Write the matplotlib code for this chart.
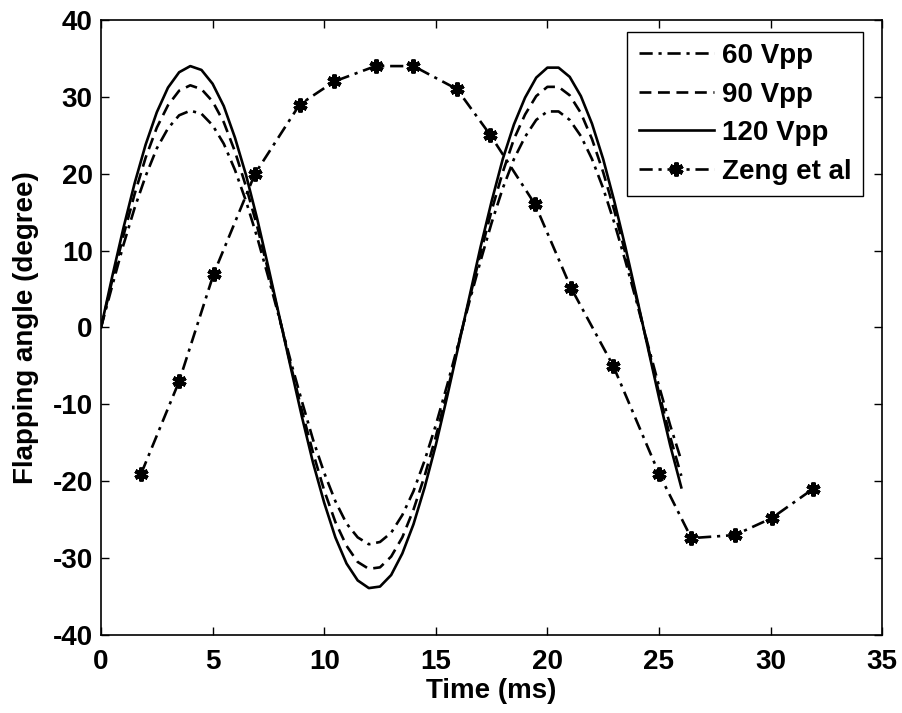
import matplotlib
matplotlib.use("Agg")
import matplotlib.pyplot as plt

# time axis for simulated curves (ms)
t_sim = [0.0, 0.5, 1.0, 1.5, 2.0, 2.5, 3.0, 3.5, 4.0, 4.5, 5.0, 5.5, 6.0, 6.5,
         7.0, 7.5, 8.0, 8.5, 9.0, 9.5, 10.0, 10.5, 11.0, 11.5, 12.0, 12.5,
         13.0, 13.5, 14.0, 14.5, 15.0, 15.5, 16.0, 16.5, 17.0, 17.5, 18.0,
         18.5, 19.0, 19.5, 20.0, 20.5, 21.0, 21.5, 22.0, 22.5, 23.0, 23.5,
         24.0, 24.5, 25.0, 25.5, 26.0]

vpp60 = [0, 5.4, 10.7, 15.5, 19.7, 23.3, 25.9, 27.6, 28.2, 27.8, 26.3, 23.9,
         20.5, 16.4, 11.7, 6.5, 1.1, -4.4, -9.6, -14.6, -18.9, -22.6, -25.5,
         -27.3, -28.2, -27.9, -26.7, -24.4, -21.3, -17.3, -12.7, -7.6, -2.2,
         3.3, 8.6, 13.6, 18.1, 21.9, 24.8, 27.0, 28.1, 28.1, 27.0, 24.9, 21.9,
         18.1, 13.6, 8.6, 3.3, -2.2, -7.6, -12.7, -17.3]

vpp90 = [0, 6.1, 11.9, 17.3, 22.1, 26.0, 28.9, 30.8, 31.5, 31.0, 29.4, 26.7,
         22.9, 18.3, 13.1, 7.3, 1.2, -4.9, -10.8, -16.3, -21.2, -25.3, -28.4,
         -30.5, -31.4, -31.2, -29.8, -27.3, -23.7, -19.3, -14.2, -8.5, -2.4,
         3.6, 9.6, 15.2, 20.2, 24.5, 27.7, 30.1, 31.3, 31.3, 30.2, 27.9, 24.5,
         20.2, 15.2, 9.6, 3.7, -2.4, -8.5, -14.2, -19.3]

vpp120 = [0, 6.6, 12.9, 18.7, 23.8, 28.0, 31.2, 33.2, 34.0, 33.5, 31.7, 28.8,
          24.7, 19.8, 14.1, 7.8, 1.3, -5.2, -11.6, -17.6, -22.8, -27.3, -30.7,
          -32.9, -33.9, -33.7, -32.2, -29.4, -25.6, -20.8, -15.3, -9.1, -2.6,
          3.9, 10.4, 16.4, 21.9, 26.4, 29.9, 32.5, 33.8, 33.8, 32.6, 30.1,
          26.5, 21.9, 16.4, 10.4, 4.0, -2.6, -9.1, -15.3, -20.8]

# Zeng et al reference data
t_zeng = [1.8, 3.5, 5.05, 6.9, 8.9, 10.45, 12.3, 14.0, 15.95, 17.45, 19.45,
          21.05, 22.95, 25.0, 26.45, 28.4, 30.05, 31.9]
zeng = [-19, -7, 7, 20, 29, 32, 34, 34, 31, 25, 16, 5.2, -5, -19, -27.4,
        -27, -24.8, -21]

plt.rcParams['font.family'] = ['Liberation Sans', 'DejaVu Sans']
plt.rcParams['font.weight'] = 'bold'
plt.rcParams['axes.labelweight'] = 'bold'
plt.rcParams['axes.unicode_minus'] = False
plt.rcParams['font.size'] = 20

fig = plt.figure(figsize=(9.02, 7.13), dpi=100)
ax = fig.add_axes([0.112, 0.1094, 0.866, 0.8626])

dashdot = (5, 2.2, 1.2, 2.2)
lw = 1.9

ax.plot(t_sim, vpp60, color='black', lw=lw, dashes=dashdot, label='60 Vpp')
ax.plot(t_sim, vpp90, color='black', lw=lw, dashes=(4.5, 2.5), label='90 Vpp')
ax.plot(t_sim, vpp120, color='black', lw=lw, ls='-', label='120 Vpp')
ax.plot(t_zeng, zeng, color='black', lw=lw, dashes=dashdot, marker=(6, 2, 0),
        markersize=10, markeredgewidth=3, label='Zeng et al')

ax.set_xlim(0, 35)
ax.set_ylim(-40, 40)
ax.set_xticks([0, 5, 10, 15, 20, 25, 30, 35])
ax.set_yticks([-40, -30, -20, -10, 0, 10, 20, 30, 40])
ax.tick_params(direction='in', length=6, width=1, top=True, right=True)
ax.tick_params(axis='x', pad=10)
ax.tick_params(axis='y', pad=6)
for s in ax.spines.values():
    s.set_linewidth(1.2)

ax.set_xlabel('Time (ms)', labelpad=2)
ax.set_ylabel('Flapping angle (degree)', labelpad=10)

leg = ax.legend(loc='upper right', bbox_to_anchor=(0.9757, 0.9805), frameon=True,
                fancybox=False, edgecolor='black', framealpha=1,
                handlelength=2.7, handletextpad=0.32, borderpad=0.4,
                labelspacing=0.45, borderaxespad=0)
leg.get_frame().set_linewidth(1.0)

fig.savefig('out.png', dpi=100)
